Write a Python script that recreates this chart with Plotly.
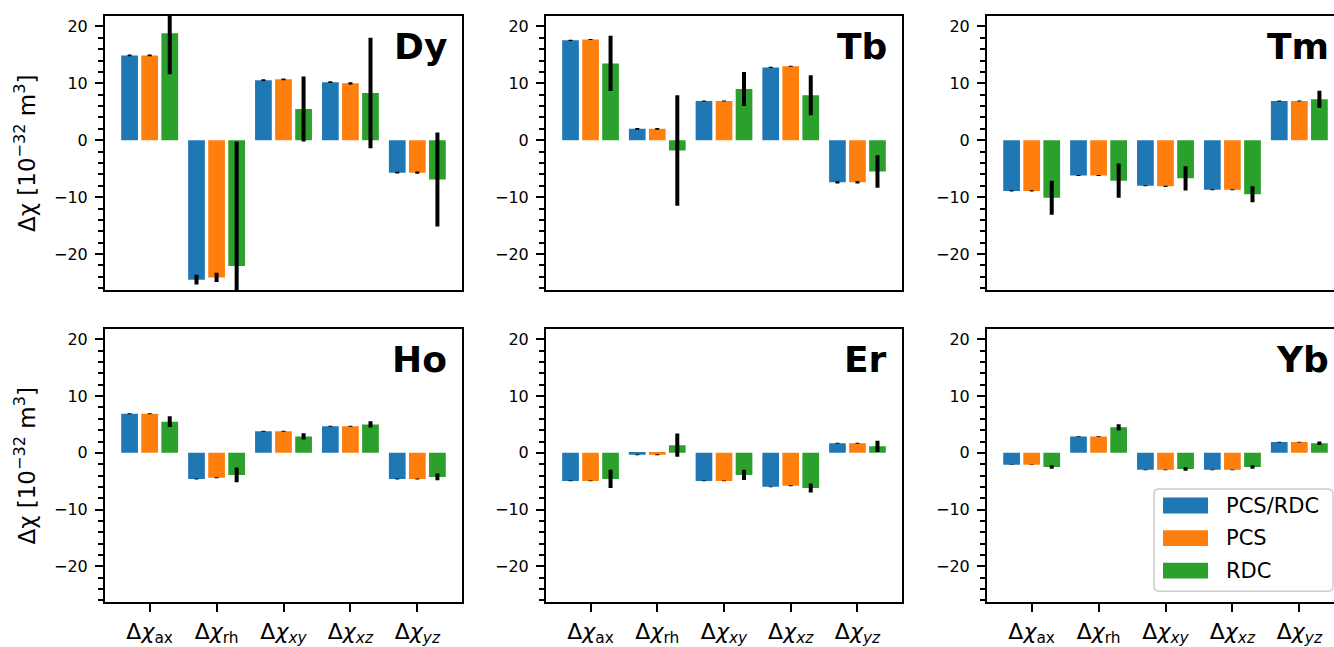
import plotly.graph_objects as go

# ---------------- data ----------------
categories = [0, 1, 2, 3, 4]
tick_labels = ["Δ<i>χ</i><sub>ax</sub>", "Δ<i>χ</i><sub>rh</sub>",
               "Δ<i>χ</i><sub><i>xy</i></sub>", "Δ<i>χ</i><sub><i>xz</i></sub>",
               "Δ<i>χ</i><sub><i>yz</i></sub>"]
series_names = ["PCS/RDC", "PCS", "RDC"]
series_colors = ["#1f77b4", "#ff7f0e", "#2ca02c"]
ions = ["Dy", "Tb", "Tm", "Ho", "Er", "Yb"]

dy_pcsrdc = [14.9, -24.5, 10.55, 10.2, -5.7]
dy_pcsrdc_err = [0.15, 0.85, 0.15, 0.15, 0.15]
dy_pcs = [14.9, -24.1, 10.7, 10.0, -5.7]
dy_pcs_err = [0.15, 0.8, 0.15, 0.2, 0.2]
dy_rdc = [18.8, -22.1, 5.5, 8.3, -6.9]
dy_rdc_err = [7.2, 21.9, 5.7, 9.7, 8.25]

tb_pcsrdc = [17.55, 2.0, 6.9, 12.8, -7.4]
tb_pcsrdc_err = [0.1, 0.15, 0.1, 0.1, 0.2]
tb_pcs = [17.7, 2.0, 6.9, 13.0, -7.4]
tb_pcs_err = [0.1, 0.15, 0.1, 0.1, 0.2]
tb_rdc = [13.5, -1.8, 9.0, 7.9, -5.5]
tb_rdc_err = [4.85, 9.7, 3.0, 3.5, 2.85]

tm_pcsrdc = [-8.9, -6.2, -8.0, -8.7, 6.9]
tm_pcsrdc_err = [0.1, 0.1, 0.1, 0.1, 0.1]
tm_pcs = [-8.9, -6.2, -8.1, -8.7, 6.9]
tm_pcs_err = [0.1, 0.1, 0.1, 0.1, 0.1]
tm_rdc = [-10.1, -7.1, -6.7, -9.5, 7.2]
tm_rdc_err = [3.0, 3.0, 2.15, 1.4, 1.5]

ho_pcsrdc = [6.9, -4.6, 3.8, 4.7, -4.6]
ho_pcsrdc_err = [0.08, 0.08, 0.08, 0.08, 0.08]
ho_pcs = [6.9, -4.4, 3.8, 4.7, -4.6]
ho_pcs_err = [0.08, 0.08, 0.08, 0.08, 0.08]
ho_rdc = [5.5, -3.9, 2.9, 5.0, -4.25]
ho_rdc_err = [0.95, 1.3, 0.55, 0.55, 0.6]

er_pcsrdc = [-4.95, -0.35, -4.95, -6.0, 1.7]
er_pcsrdc_err = [0.08, 0.08, 0.08, 0.08, 0.08]
er_pcs = [-4.95, -0.35, -4.95, -5.8, 1.7]
er_pcs_err = [0.08, 0.08, 0.08, 0.08, 0.08]
er_rdc = [-4.6, 1.35, -3.9, -6.2, 1.15]
er_rdc_err = [1.6, 2.05, 0.9, 0.8, 1.0]

yb_pcsrdc = [-2.1, 2.9, -3.0, -3.0, 1.9]
yb_pcsrdc_err = [0.06, 0.06, 0.06, 0.06, 0.06]
yb_pcs = [-2.1, 2.9, -3.0, -3.0, 1.9]
yb_pcs_err = [0.06, 0.06, 0.06, 0.06, 0.06]
yb_rdc = [-2.5, 4.5, -2.85, -2.5, 1.7]
yb_rdc_err = [0.3, 0.55, 0.3, 0.3, 0.3]

panel_data = [
    [(dy_pcsrdc, dy_pcsrdc_err), (dy_pcs, dy_pcs_err), (dy_rdc, dy_rdc_err)],
    [(tb_pcsrdc, tb_pcsrdc_err), (tb_pcs, tb_pcs_err), (tb_rdc, tb_rdc_err)],
    [(tm_pcsrdc, tm_pcsrdc_err), (tm_pcs, tm_pcs_err), (tm_rdc, tm_rdc_err)],
    [(ho_pcsrdc, ho_pcsrdc_err), (ho_pcs, ho_pcs_err), (ho_rdc, ho_rdc_err)],
    [(er_pcsrdc, er_pcsrdc_err), (er_pcs, er_pcs_err), (er_rdc, er_rdc_err)],
    [(yb_pcsrdc, yb_pcsrdc_err), (yb_pcs, yb_pcs_err), (yb_rdc, yb_rdc_err)],
]

y_range = [-26.35, 21.85]
y_ticks = [-20, -10, 0, 10, 20]
ylabel = "Δχ [10<sup>−32</sup> m<sup>3</sup>]"

# ---------------- layout geometry (pixels) ----------------
W, H = 1334, 647
FONT = "DejaVu Sans"
col_px = [(105, 462), (546, 902), (987, 1344)]
row_px = [(16, 292), (331, 606)]
full_range = [-0.6675, 4.6675]


def px_x(p):
    return p / W


def px_y(p):
    return 1 - p / H


fig = go.Figure()
layout = dict(
    width=W, height=H,
    margin=dict(l=0, r=0, t=0, b=0),
    paper_bgcolor="white", plot_bgcolor="white",
    barmode="group", bargap=0.1, bargroupgap=1 - 0.25 / 0.3,
    showlegend=False,
    font=dict(family=FONT, color="black"),
)
annotations = []
shapes = []

for k, ion in enumerate(ions):
    r, c = divmod(k, 3)
    x0, x1 = col_px[c]
    y0, y1 = row_px[r]
    vis_x1 = min(x1, W)
    span = full_range[1] - full_range[0]
    xr = [full_range[0], full_range[0] + span * (vis_x1 - x0) / (x1 - x0)]
    ax_id = "" if k == 0 else str(k + 1)
    xa, ya = "x" + ax_id, "y" + ax_id

    for s in range(3):
        vals, errs = panel_data[k][s]
        fig.add_trace(go.Bar(
            x=categories, y=vals, name=series_names[s],
            marker=dict(color=series_colors[s], line=dict(width=0)),
            error_y=dict(type="data", array=errs, visible=True,
                         color="black", thickness=4, width=0),
            xaxis=xa, yaxis=ya, offsetgroup=str(s),
        ))

    bottom = (r == 1)
    layout["xaxis" + ax_id] = dict(
        domain=[px_x(x0), px_x(vis_x1)], anchor=ya, range=xr,
        tickmode="array", tickvals=categories, ticktext=tick_labels,
        showticklabels=bottom, ticks="outside" if bottom else "",
        ticklen=8, tickwidth=2, tickcolor="black",
        tickfont=dict(size=22, family=FONT, color="black"),
        showline=True, linecolor="black", linewidth=2, mirror=True,
        showgrid=False, zeroline=False,
    )
    layout["yaxis" + ax_id] = dict(
        domain=[px_y(y1), px_y(y0)], anchor=xa, range=y_range,
        tickmode="array", tickvals=y_ticks,
        ticktext=[str(t).replace("-", "−") for t in y_ticks],
        ticks="outside", ticklen=8, tickwidth=2, tickcolor="black",
        ticklabelstandoff=4,
        minor=dict(dtick=2, tick0=0, ticks="outside", ticklen=5,
                   tickwidth=1.5, tickcolor="black", showgrid=False),
        tickfont=dict(size=16, family=FONT, color="black"),
        showline=True, linecolor="black", linewidth=2,
        mirror=(c != 2),
        showgrid=False, zeroline=False,
    )

    # ion label
    annotations.append(dict(
        text="<b>" + ion + "</b>", xref="paper", yref="paper",
        x=px_x(x1 - 13), y=px_y(y0 + 8), xanchor="right", yanchor="top",
        showarrow=False, font=dict(size=36, family=FONT, color="black"),
    ))
    if c == 0:
        annotations.append(dict(
            text=ylabel, xref="paper", yref="paper",
            x=px_x(25), y=px_y((y0 + y1) / 2), xanchor="center", yanchor="middle",
            textangle=-90, showarrow=False,
            font=dict(size=23, family=FONT, color="black"),
        ))

# ---------------- custom legend (matplotlib style) ----------------
lx0, lx1, ly0, ly1, rad = 1154, 1333, 492, 595, 5
path = (f"M {px_x(lx0 + rad)},{px_y(ly0)} L {px_x(lx1 - rad)},{px_y(ly0)} "
        f"Q {px_x(lx1)},{px_y(ly0)} {px_x(lx1)},{px_y(ly0 + rad)} "
        f"L {px_x(lx1)},{px_y(ly1 - rad)} Q {px_x(lx1)},{px_y(ly1)} {px_x(lx1 - rad)},{px_y(ly1)} "
        f"L {px_x(lx0 + rad)},{px_y(ly1)} Q {px_x(lx0)},{px_y(ly1)} {px_x(lx0)},{px_y(ly1 - rad)} "
        f"L {px_x(lx0)},{px_y(ly0 + rad)} Q {px_x(lx0)},{px_y(ly0)} {px_x(lx0 + rad)},{px_y(ly0)} Z")
shapes.append(dict(type="path", path=path, xref="paper", yref="paper",
                   fillcolor="rgba(255,255,255,0.8)",
                   line=dict(color="#cccccc", width=1.5), layer="above"))
row_centers = [508.7, 541.5, 574.2]
for s in range(3):
    yc = row_centers[s]
    shapes.append(dict(type="rect", xref="paper", yref="paper",
                       x0=px_x(1163), x1=px_x(1208), y0=px_y(yc - 8), y1=px_y(yc + 8),
                       fillcolor=series_colors[s], line=dict(width=0), layer="above"))
    annotations.append(dict(
        text=series_names[s], xref="paper", yref="paper",
        x=px_x(1224), y=px_y(yc), xanchor="left", yanchor="middle",
        showarrow=False, font=dict(size=21, family=FONT, color="black"),
    ))

layout["annotations"] = annotations
layout["shapes"] = shapes
fig.update_layout(**layout)
fig.write_html("out.html", config={"displayModeBar": False})

# remove the browser's default page margin so the figure sits at (0, 0)
with open("out.html", "r", encoding="utf-8") as f:
    html = f.read()
html = html.replace("<head>", "<head><style>html,body{margin:0;padding:0;overflow:hidden;}</style>", 1)
with open("out.html", "w", encoding="utf-8") as f:
    f.write(html)
